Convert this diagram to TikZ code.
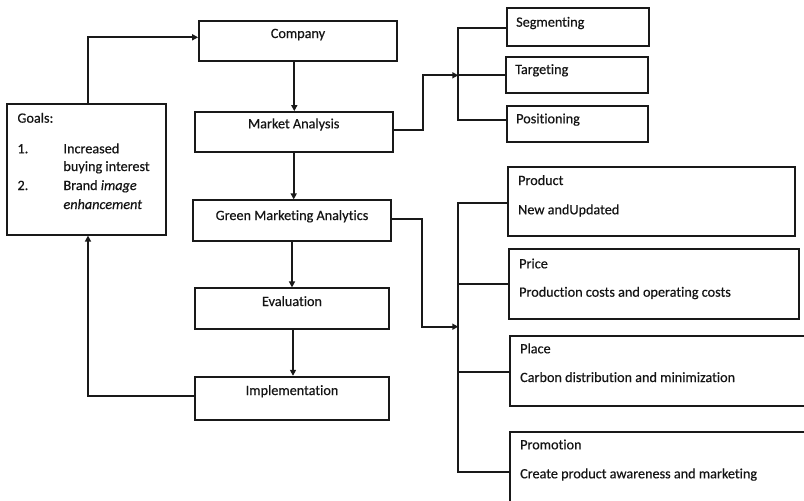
\documentclass[tikz,border=0pt]{standalone}
\usepackage{fontspec}
\setmainfont{Carlito}[Ligatures={NoCommon},FakeBold=0.4]
\usetikzlibrary{arrows.meta,fit}
\tikzset{
  box/.style={draw=black!90, line width=1.8pt, inner sep=0pt, fill=white},
  txt/.style={inner sep=0pt, font=\fontsize{14.2pt}{16pt}\selectfont, text=black!92},
  conn/.style={draw=black!90, line width=1.8pt},
  arr/.style={conn, -{Triangle[length=6pt,width=6pt]}},
}
\begin{document}
\begin{tikzpicture}[x=1pt,y=-1pt]
\useasboundingbox (0,0) rectangle (804,501);
\begin{scope}
\clip (0,0) rectangle (804,501);
% left column
\node[box, fit={(199,20.7) (397,60.7)}] (company) {};
\node[txt, anchor=base] (tcompany) at (298,38) {Company};
\node[box, fit={(194.7,112) (392.7,152)}] (market) {};
\node[txt, anchor=base] (tmarket) at (293.7,128.3) {Market Analysis};
\node[box, fit={(193.3,200.3) (390.7,240.7)}] (green) {};
\node[txt, anchor=base] (tgreen) at (292,220) {Green Marketing Analytics};
\node[box, fit={(194.7,288.3) (389.3,329.3)}] (eval) {};
\node[txt, anchor=base] (teval) at (292,306) {Evaluation};
\node[box, fit={(194.7,376.7) (389.3,420)}] (impl) {};
\node[txt, anchor=base] (timpl) at (292,395) {Implementation};
% goals
\node[box, fit={(7.3,104.3) (165.7,234.7)}] (goals) {};
\node[txt, anchor=base west] (tgoals) at (17.3,122.7) {Goals:};
\node[txt, anchor=base west] (n1) at (17.3,153.3) {1.};
\node[txt, anchor=base west] (g1a) at (63.3,153.3) {Increased};
\node[txt, anchor=base west] (g1b) at (63.3,171) {buying interest};
\node[txt, anchor=base west] (n2) at (17.3,190) {2.};
\node[txt, anchor=base west] (g2a) at (63.3,190) {Brand \textit{image}};
\node[txt, anchor=base west] (g2b) at (63.3,209) {\textit{enhancement}};
% STP
\node[box, fit={(506.7,8.3) (649,45.7)}] (seg) {};
\node[txt, anchor=base west] (tseg) at (516,26.7) {Segmenting};
\node[box, fit={(505.7,56.7) (648.3,93.3)}] (tar) {};
\node[txt, anchor=base west] (ttar) at (515,74) {Targeting};
\node[box, fit={(506.7,105.7) (647.7,142.3)}] (pos) {};
\node[txt, anchor=base west] (tpos) at (516,123.3) {Positioning};
% 4P
\node[box, fit={(508,166.7) (795.3,236)}] (product) {};
\node[txt, anchor=base west] (tproduct) at (518,185) {Product};
\node[txt, anchor=base west] (dproduct) at (518,214.3) {New andUpdated};
\node[box, fit={(509.3,249.3) (799.3,319.3)}] (price) {};
\node[txt, anchor=base west] (tprice) at (519,268.3) {Price};
\node[txt, anchor=base west] (dprice) at (519,296.7) {Production costs and operating costs};
\node[box, fit={(510.3,335.7) (815,406)}] (place) {};
\node[txt, anchor=base west] (tplace) at (520,353.3) {Place};
\node[txt, anchor=base west] (dplace) at (520,382) {Carbon distribution and minimization};
\node[box, fit={(510.3,431.7) (815,515)}] (promo) {};
\node[txt, anchor=base west] (tpromo) at (520,449.3) {Promotion};
\node[txt, anchor=base west] (dpromo) at (520,478.3) {Create product awareness and marketing};
% vertical flow
\draw[arr] (company.south -| 294.3,0) -- (market.north -| 294.3,0);
\draw[arr] (market.south -| 293.7,0) -- (green.north -| 293.7,0);
\draw[arr] (green.south -| 292,0) -- (eval.north -| 292,0);
\draw[arr] (eval.south -| 293,0) -- (impl.north -| 293,0);
% feedback loop
\draw[arr] (goals.north -| 88,0) |- (company.west |- 0,37.3);
\draw[arr] (impl.west |- 0,395.7) -| (goals.south -| 88,0);
% STP bracket
\coordinate (b1) at (458.3,75.3);
\draw[arr] (market.east |- 0,130) -| (422.7,75.3) -- (b1);
\draw[conn] (seg.west |- 0,28.3) -| (458.3,120) -- (pos.west |- 0,120);
\draw[conn] (458.3,75.3) -- (tar.west |- 0,75.3);
% 4P bracket
\coordinate (b2) at (458.3,326.7);
\draw[arr] (green.east |- 0,219.3) -| (422,326.7) -- (b2);
\draw[conn] (product.west |- 0,202.7) -| (458.3,471.7) -- (promo.west |- 0,471.7);
\draw[conn] (458.3,284) -- (price.west |- 0,284);
\draw[conn] (458.3,371.7) -- (place.west |- 0,371.7);
\end{scope}
\end{tikzpicture}
\end{document}
